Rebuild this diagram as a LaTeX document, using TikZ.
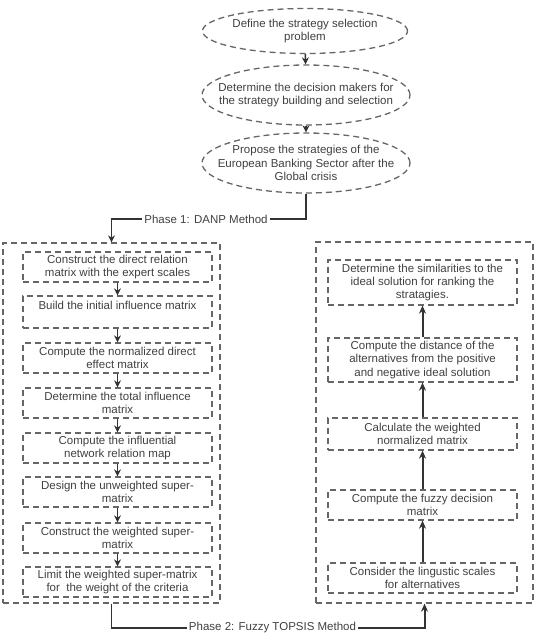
\documentclass[tikz,border=0pt]{standalone}
\usepackage{fontspec}
\setmainfont{Liberation Sans}
\usepackage{tikz}
\usetikzlibrary{shapes.geometric, arrows.meta, positioning}

\begin{document}
\begin{tikzpicture}[x=1pt, y=-1pt]
    \tikzset{
    dashline/.style={draw=black!60, line width=1.3pt, dash pattern=on 6pt off 4pt},
    phase/.style={
        ellipse, dashline, align=center,
        minimum width=208pt, minimum height=60pt,
        inner xsep=-30pt, inner ysep=-6pt,
        text=black!75, font=\fontsize{11.5}{13.3}\selectfont
    },
    stepbox/.style={
        rectangle, dashline, align=center,
        minimum width=189pt, minimum height=30pt, inner sep=1pt,
        text=black!75, font=\fontsize{11.5}{13.3}\selectfont
    },
    methodbox/.style={rectangle, dashline, minimum width=217pt},
    label/.style={text=black!75, font=\fontsize{11.5}{13.3}\selectfont, inner sep=2pt},
    link/.style={draw=black!80, line width=1.5pt},
    flow/.style={link, -{Stealth[length=7pt, width=7pt]}},
    rise/.style={draw=black!80, line width=2pt, -{Stealth[length=8pt, width=7pt]}}
    }
    \useasboundingbox (0,0) rectangle (539,638);

        \node (e1)[phase, minimum width=205pt, minimum height=45pt] at (305,31) {Define the strategy selection\\problem};
        \node (e2)[phase] at (306,95) {Determine the decision makers for\\the strategy building and selection};
        \node (e3)[phase] at (306,163) {Propose the strategies of the\\European Banking Sector after the\\Global crisis};

        \draw[flow] (e1) -- (e2);
        \draw[flow] (e2) -- (e3);

        \node (danp)[methodbox, minimum height=360pt] at (111.5,423) {};
        \node (topsis)[methodbox, minimum height=361pt] at (424.5,422.5) {};

        \node (l1)[stepbox] at (117.5,267) {Construct the direct relation\\matrix with the expert scales};
        \node (l2)[stepbox, minimum height=32pt] at (117.5,312) {Build the initial influence matrix\\~};
        \node (l3)[stepbox] at (117.5,358) {Compute the normalized direct\\effect matrix};
        \node (l4)[stepbox] at (117.5,403) {Determine the total influence\\matrix};
        \node (l5)[stepbox] at (117.5,448) {Compute the influential\\network relation map};
        \node (l6)[stepbox] at (117.5,492) {Design the unweighted super-\\matrix};
        \node (l7)[stepbox] at (117.5,538) {Construct the weighted super-\\matrix};
        \node (l8)[stepbox] at (117.5,582) {Limit the weighted super-matrix\\for\ \ the weight of the criteria};

        \draw[flow] (l1) -- (l2);
        \draw[flow] (l2) -- (l3);
        \draw[flow] (l3) -- (l4);
        \draw[flow] (l4) -- (l5);
        \draw[flow] (l5) -- (l6);
        \draw[flow] (l6) -- (l7);
        \draw[flow] (l7) -- (l8);

        \node (r1)[stepbox, minimum height=45pt] at (422.5,282.5) {Determine the similarities to the\\ideal solution for ranking the\\stratagies.};
        \node (r2)[stepbox, minimum height=44pt] at (422.5,360) {Compute the distance of the\\alternatives from the positive\\and negative ideal solution};
        \node (r3)[stepbox, minimum height=32pt] at (422.5,434) {Calculate the weighted\\normalized matrix};
        \node (r4)[stepbox] at (422.5,505) {Compute the fuzzy decision\\matrix};
        \node (r5)[stepbox] at (422.5,578) {Consider the lingustic scales\\for alternatives};

        \draw[rise] (r5) -- (r4);
        \draw[rise] (r4) -- (r3);
        \draw[rise] (r3) -- (r2);
        \draw[rise] (r2) -- (r1);

        \node (p1)[label] at (206,219) {Phase 1: DANP Method};
        \node (p2)[label] at (272.5,628) {Phase 2: Fuzzy TOPSIS Method};

        \draw[link] (e3.south) |- (p1.east);
        \draw[flow] (p1.west) -| (danp.north);
        \draw[link] (danp.south) |- (p2.west);
        \draw[rise] (p2.east) -| (topsis.south);

    \end{tikzpicture}
\end{document}
